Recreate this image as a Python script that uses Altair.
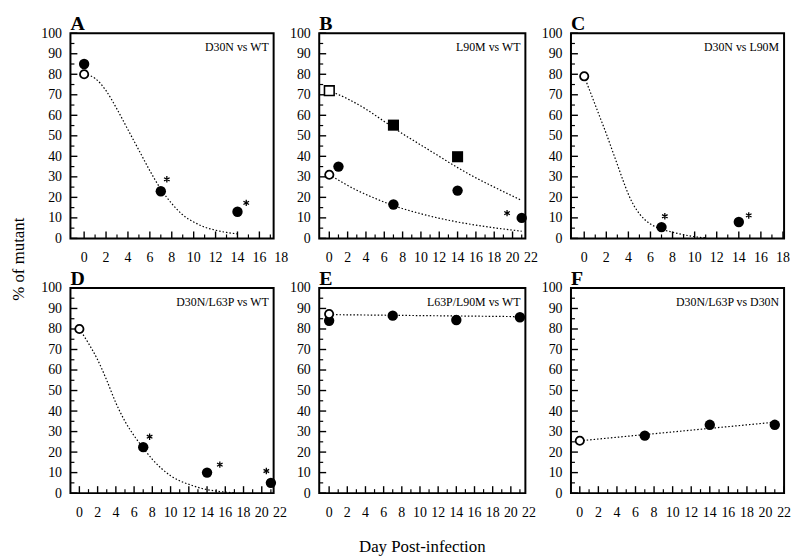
import altair as alt
import pandas as pd

FONT = "Liberation Serif"

# ---------------- data ----------------
# Panel A : D30N vs WT
A_CURVE_DAY = [0, 1, 2, 3, 4, 5, 6, 7, 8, 9, 10, 11, 12, 13, 14]
A_CURVE_PCT = [80, 78, 72, 63, 53, 43, 33, 24, 17, 11.5, 8, 5.5, 4, 2.9, 2.2]
A_FILL_DAY = [0, 7, 14]
A_FILL_PCT = [85, 23, 13]
A_OPEN_DAY = [0]
A_OPEN_PCT = [80]
A_STAR_DAY = [7.55, 14.8]
A_STAR_PCT = [28.8, 17.3]

# Panel B : L90M vs WT
B_CURVE1_DAY = [0, 2, 4, 6, 8, 10, 12, 14, 16, 18, 21]
B_CURVE1_PCT = [72, 68, 63, 57, 51, 45.5, 40, 34.5, 29.5, 25, 18.5]
B_CURVE2_DAY = [0, 3, 5, 7, 10, 14, 17, 21]
B_CURVE2_PCT = [31, 23.5, 19.5, 16, 12, 8, 5.8, 3.5]
B_SQFILL_DAY = [7, 14]
B_SQFILL_PCT = [55.2, 39.8]
B_SQOPEN_DAY = [0]
B_SQOPEN_PCT = [72]
B_FILL_DAY = [1, 7, 14, 21]
B_FILL_PCT = [35, 16.5, 23.3, 10]
B_OPEN_DAY = [0]
B_OPEN_PCT = [31]
B_STAR_DAY = [19.4]
B_STAR_PCT = [12.3]

# Panel C : D30N vs L90M
C_CURVE_DAY = [0, 0.5, 1, 1.5, 2, 2.5, 3, 3.5, 4, 4.5, 5, 6, 7, 8, 9, 10, 11]
C_CURVE_PCT = [79, 72, 65, 58, 51, 43.5, 36, 28.5, 21.5, 16, 12, 7, 4.5, 3, 1.8, 0.8, 0.3]
C_FILL_DAY = [7, 14]
C_FILL_PCT = [5.5, 8]
C_OPEN_DAY = [0]
C_OPEN_PCT = [79]
C_STAR_DAY = [7.3, 14.9]
C_STAR_PCT = [10.8, 11.2]

# Panel D : D30N/L63P vs WT
D_CURVE_DAY = [0, 1, 2, 3, 4, 5, 6, 7, 8, 9, 10, 11, 12, 13, 14, 15, 16, 17]
D_CURVE_PCT = [80, 73, 65, 55, 44, 35, 28, 22, 16.5, 12, 8.5, 6, 4.3, 2.8, 1.7, 1, 0.5, 0.2]
D_FILL_DAY = [7, 14, 21]
D_FILL_PCT = [22.4, 10, 5]
D_OPEN_DAY = [0]
D_OPEN_PCT = [80]
D_STAR_DAY = [7.7, 15.4, 20.5]
D_STAR_PCT = [27.5, 13.9, 10.8]

# Panel E : L63P/L90M vs WT
E_LINE_DAY = [0, 21.5]
E_LINE_PCT = [87, 86]
E_FILL_DAY = [0, 7, 14, 21]
E_FILL_PCT = [84, 86.5, 84.4, 85.7]
E_OPEN_DAY = [0]
E_OPEN_PCT = [87.3]

# Panel F : D30N/L63P vs D30N
F_LINE_DAY = [0, 21.5]
F_LINE_PCT = [25.5, 34.8]
F_FILL_DAY = [7, 14, 21]
F_FILL_PCT = [28, 33.3, 33.3]
F_OPEN_DAY = [0]
F_OPEN_PCT = [25.5]

# axis labels / ticks
Y_LABELS = [0, 10, 20, 30, 40, 50, 60, 70, 80, 90, 100]
Y_MINOR = [5, 15, 25, 35, 45, 55, 65, 75, 85, 95]
X_LABELS_18 = [0, 2, 4, 6, 8, 10, 12, 14, 16, 18]
X_LABELS_22 = [0, 2, 4, 6, 8, 10, 12, 14, 16, 18, 20, 22]

Y_TITLE = "% of mutant"
X_TITLE = "Day Post-infection"

H = 207
ASTERISK = "M0,-1L0,1M-0.87,-0.5L0.87,0.5M-0.87,0.5L0.87,-0.5"


def df(days, pcts):
    return pd.DataFrame({"day": days, "pct": pcts})


def label_layer(text, width, xpos, ypos, size, weight="normal", align="left",
                baseline="alphabetic", angle=0):
    return alt.Chart(pd.DataFrame({"t": [text]})).mark_text(
        font=FONT, fontSize=size, fontWeight=weight, color="black",
        align=align, baseline=baseline, angle=angle
    ).encode(x=alt.value(xpos), y=alt.value(ypos), text="t:N")


def panel(letter, note, xdom, width, xlabels, curves, fills, opens,
          sqfills=(), sqopens=(), stars=None, ytitle=False, xtitle=False):
    xs = alt.Scale(domain=xdom, nice=False, zero=False)
    ys = alt.Scale(domain=[0, 100], nice=False)
    yaxis = alt.Axis(title=None, values=Y_LABELS, labelFont=FONT, labelFontSize=14,
                     labelColor="black", ticks=False, tickSize=0, domain=False,
                     grid=False, labelPadding=9)
    xaxis = alt.Axis(title=None, labels=False, ticks=False, tickSize=0,
                     domain=False, grid=False)

    X = alt.X("day:Q", scale=xs, axis=xaxis)
    Y = alt.Y("pct:Q", scale=ys, axis=yaxis)

    right = xdom[1]
    xmajor = [v for v in range(0, 23, 2) if v <= right + 0.01]
    xminor = [v for v in range(1, 23, 2) if v <= right + 0.01]

    layers = []
    # inward ticks
    layers.append(alt.Chart(pd.DataFrame({"pct": Y_LABELS})).mark_rule(
        color="black", strokeWidth=1.4).encode(y=Y, x=alt.value(0), x2=alt.value(7)))
    layers.append(alt.Chart(pd.DataFrame({"pct": Y_MINOR})).mark_rule(
        color="black", strokeWidth=1.2).encode(y=Y, x=alt.value(0), x2=alt.value(4)))
    layers.append(alt.Chart(pd.DataFrame({"day": xmajor})).mark_rule(
        color="black", strokeWidth=1.4).encode(x=X, y=alt.value(H), y2=alt.value(H - 7)))
    layers.append(alt.Chart(pd.DataFrame({"day": xminor})).mark_rule(
        color="black", strokeWidth=1.2).encode(x=X, y=alt.value(H), y2=alt.value(H - 4)))
    # fitted dotted curves
    for d, p in curves:
        layers.append(alt.Chart(df(d, p)).mark_line(
            color="black", strokeWidth=1.2, strokeDash=[1.5, 2],
            interpolate="monotone").encode(x=X, y=Y))
    # filled squares / circles
    for d, p in sqfills:
        layers.append(alt.Chart(df(d, p)).mark_point(
            shape="square", filled=True, color="black", size=125, opacity=1
        ).encode(x=X, y=Y))
    for d, p in fills:
        layers.append(alt.Chart(df(d, p)).mark_point(
            shape="circle", filled=True, color="black", size=110, opacity=1
        ).encode(x=X, y=Y))
    # open markers
    for d, p in sqopens:
        layers.append(alt.Chart(df(d, p)).mark_point(
            shape="square", filled=True, fill="white", stroke="black",
            strokeWidth=1.6, size=95, opacity=1).encode(x=X, y=Y))
    for d, p in opens:
        layers.append(alt.Chart(df(d, p)).mark_point(
            shape="circle", filled=True, fill="white", stroke="black",
            strokeWidth=1.8, size=70, opacity=1).encode(x=X, y=Y))
    # asterisks (significance marks)
    if stars is not None:
        layers.append(alt.Chart(df(stars[0], stars[1])).mark_point(
            shape=ASTERISK, filled=False, stroke="black", strokeWidth=1.3,
            size=42, opacity=1).encode(x=X, y=Y))
    # x tick labels
    xl = pd.DataFrame({"day": xlabels, "t": [str(v) for v in xlabels]})
    layers.append(alt.Chart(xl).mark_text(
        font=FONT, fontSize=14, color="black", baseline="top", align="center"
    ).encode(x=X, y=alt.value(H + 13), text="t:N"))
    # note text
    layers.append(label_layer(note, width, width - 5, 14, 12, align="right",
                              baseline="middle"))
    # panel letter
    layers.append(label_layer(letter, width, 0, -3, 20, weight="bold"))
    if ytitle:
        layers.append(label_layer(Y_TITLE, width, -52, -29, 17, align="center",
                                  baseline="middle", angle=270))
    if xtitle:
        layers.append(label_layer(X_TITLE, width, width / 2, H + 54, 17,
                                  align="center", baseline="middle"))

    return alt.layer(*layers).properties(width=width, height=H)


pA = panel("A", "D30N vs WT", [-1.25, 17.3], 205, X_LABELS_18,
           [(A_CURVE_DAY, A_CURVE_PCT)],
           [(A_FILL_DAY, A_FILL_PCT)], [(A_OPEN_DAY, A_OPEN_PCT)],
           stars=(A_STAR_DAY, A_STAR_PCT))
pB = panel("B", "L90M vs WT", [-1.1, 21.4], 208, X_LABELS_22,
           [(B_CURVE1_DAY, B_CURVE1_PCT), (B_CURVE2_DAY, B_CURVE2_PCT)],
           [(B_FILL_DAY, B_FILL_PCT)], [(B_OPEN_DAY, B_OPEN_PCT)],
           sqfills=[(B_SQFILL_DAY, B_SQFILL_PCT)],
           sqopens=[(B_SQOPEN_DAY, B_SQOPEN_PCT)],
           stars=(B_STAR_DAY, B_STAR_PCT))
pC = panel("C", "D30N vs L90M", [-1.2, 18.1], 215, X_LABELS_18,
           [(C_CURVE_DAY, C_CURVE_PCT)],
           [(C_FILL_DAY, C_FILL_PCT)], [(C_OPEN_DAY, C_OPEN_PCT)],
           stars=(C_STAR_DAY, C_STAR_PCT))
pD = panel("D", "D30N/L63P vs WT", [-0.98, 21.3], 205, X_LABELS_22,
           [(D_CURVE_DAY, D_CURVE_PCT)],
           [(D_FILL_DAY, D_FILL_PCT)], [(D_OPEN_DAY, D_OPEN_PCT)],
           stars=(D_STAR_DAY, D_STAR_PCT), ytitle=True)
pE = panel("E", "L63P/L90M vs WT", [-1.09, 21.6], 208, X_LABELS_22,
           [(E_LINE_DAY, E_LINE_PCT)],
           [(E_FILL_DAY, E_FILL_PCT)], [(E_OPEN_DAY, E_OPEN_PCT)],
           xtitle=True)
pF = panel("F", "D30N/L63P vs D30N", [-0.95, 22], 215, X_LABELS_22,
           [(F_LINE_DAY, F_LINE_PCT)],
           [(F_FILL_DAY, F_FILL_PCT)], [(F_OPEN_DAY, F_OPEN_PCT)])

chart = alt.concat(pA, pB, pC, pD, pE, pF, columns=3,
                   spacing={"row": 50, "column": 46}, bounds="flush").properties(
    padding={"top": 3, "left": 0, "right": 0, "bottom": 0}, background="white"
).configure_view(stroke="black", strokeWidth=2)

chart.save("out.html", embed_options={"renderer": "svg", "actions": False})
